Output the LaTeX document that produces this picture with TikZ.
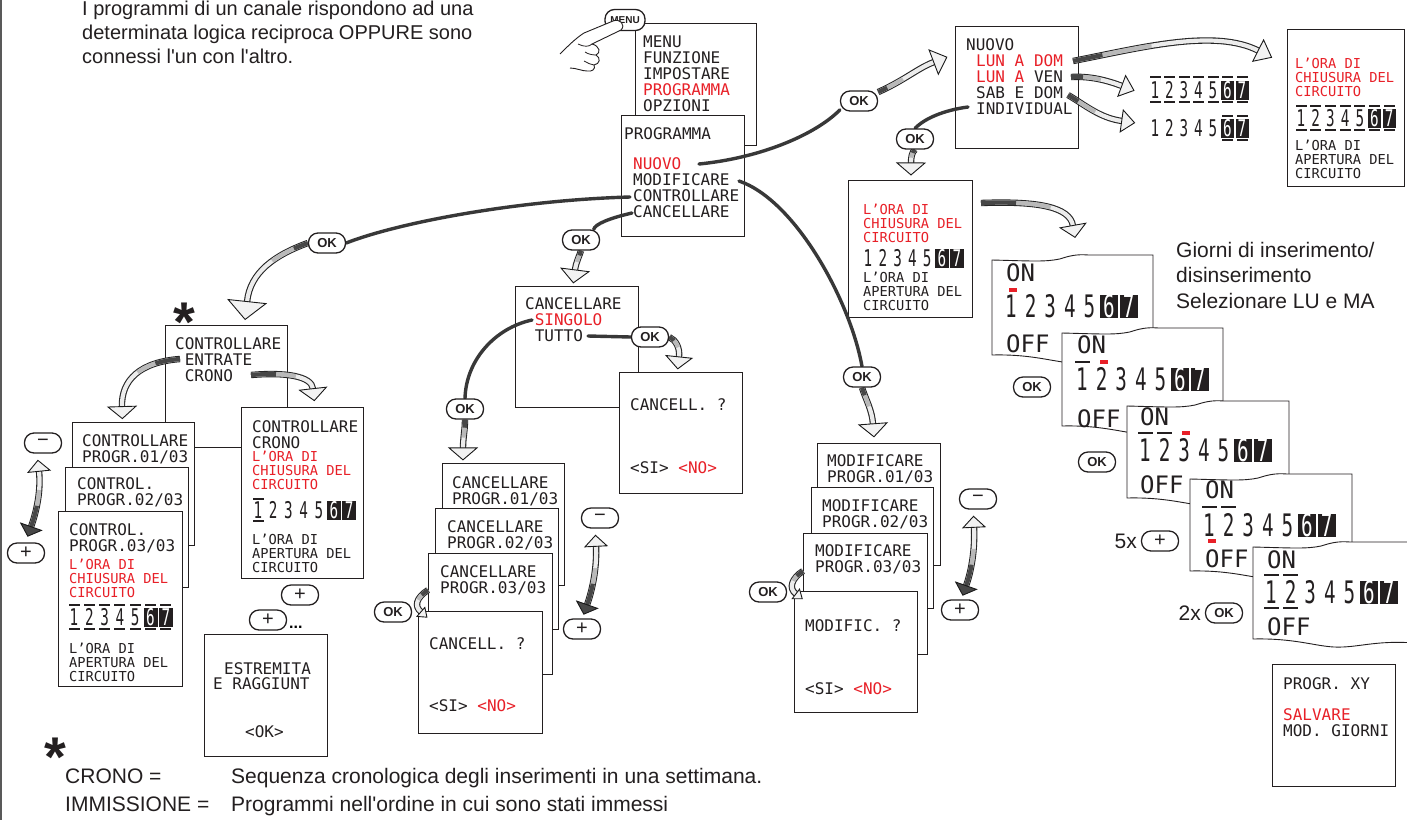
\documentclass[tikz,border=0pt]{standalone}
\usepackage{fontspec}
\setmainfont{Liberation Sans}
\setsansfont{Liberation Sans}
\newfontfamily\lcdfont{DejaVu Sans Mono}
\newfontfamily\lcdnum{DejaVu Sans Mono}[FakeStretch=0.62]
\usetikzlibrary{decorations.markings}

\definecolor{ink}{RGB}{35,31,32}
\definecolor{lcdred}{RGB}{232,32,40}

\pgfdeclarelayer{front}
\pgfsetlayers{main,front}

\newcommand\ind{\phantom{X}}
\newcommand\red[1]{\textcolor{lcdred}{#1}}

\tikzset{
  scr/.style={draw=ink, line width=1.1pt, fill=white, anchor=north west, inner sep=0pt},
  lcd/.style={font=\lcdfont\fontsize{16}{16}\selectfont, text=ink, align=left, inner sep=0pt},
  lcds/.style={font=\lcdfont\fontsize{13.7}{13.8}\selectfont, text=ink, align=left, inner sep=0pt},
  lcdbig/.style={font=\lcdfont\fontsize{24}{24}\selectfont, text=ink, anchor=base west, inner sep=0pt},
  note/.style={font=\fontsize{21}{23.5}\selectfont, text=ink, align=left, inner sep=0pt},
  btn/.style={draw=ink, line width=1.3pt, fill=white, rounded corners=9.5pt,
    minimum width=37pt, minimum height=20pt, inner sep=0pt, text=ink,
    font=\bfseries\fontsize{13}{13}\selectfont},
  pmbtn/.style={btn, font=\fontsize{20}{20}\selectfont},
  star/.style={inner sep=0pt, anchor=north, text=ink, font=\bfseries\fontsize{56}{56}\selectfont},
  darkline/.style={draw=black!78, line width=3.4pt, line cap=round},
  ribbon/.style 2 args={draw=black!85, line width=6.4pt,
    postaction={draw=gray!15, line width=4.2pt},
    postaction={draw=gray!55, line width=4.2pt, dash pattern=on #2 off 3000pt},
    postaction={draw=black!72, line width=4.2pt, dash pattern=on #1 off 3000pt}},
  tipend/.style 2 args={postaction={decorate, decoration={markings,
    mark=at position 0.995 with {\filldraw[draw=black!90, fill=gray!10, line width=0.9pt, line join=miter]
      (0,{-#1/2}) -- (#2,0) -- (0,{#1/2}) -- cycle;}}}},
  tipstart/.style 2 args={postaction={decorate, decoration={markings,
    mark=at position 0.005 with {\filldraw[draw=black!90, fill=black!72, line width=0.9pt, line join=miter]
      (0,{-#1/2}) -- (-#2,0) -- (0,{#1/2}) -- cycle;}}}},
}

% screen frame: name, x, y (top left), width, height
\newcommand\screen[5]{\node[scr, minimum width=#4pt, minimum height=#5pt] (#1) at (#2,#3) {};}

% day digits 1..7, 6 and 7 inverted: name, x of first centre, y centre, pitch, font size, cell height
\newcommand\dayrow[6]{%
  \foreach \k in {1,...,7}{%
    \pgfmathsetmacro\dx{#2+(\k-1)*#4}%
    \ifnum\k>5
      \fill[ink] ({\dx-#4/2+0.8},{#3-#6/2}) rectangle ({\dx+#4/2-0.4},{#3+#6/2});
      \node[inner sep=0pt, text=white, font=\lcdnum\fontsize{#5}{#5}\selectfont] (#1-\k) at (\dx,#3) {\k};
    \else
      \node[inner sep=0pt, text=ink, font=\lcdnum\fontsize{#5}{#5}\selectfont] (#1-\k) at (\dx,#3) {\k};
    \fi
  }%
}
% selection bars: y, x of first centre, pitch, bar width, list of days
\newcommand\daybars[5]{%
  \foreach \k in {#5}{%
    \fill[ink] ({#2+(\k-1)*#3-#4/2},{#1-1.2}) rectangle ({#2+(\k-1)*#3+#4/2},{#1+1.2});
  }%
}
\newcommand\cursor[2]{\fill[lcdred] ({#1-4},{#2-2}) rectangle ({#1+4},{#2+2});}

% torn display: left, top, right, bottom
\newcommand\tornscreen[4]{%
  \filldraw[draw=ink, line width=0.9pt, fill=white]
    (#1,#2+4) .. controls ({#1+0.25*(#3-#1)},#2+5) and ({#1+0.33*(#3-#1)},#2+6) .. ({#1+0.42*(#3-#1)},#2+3)
    .. controls ({#1+0.48*(#3-#1)},#2) and ({#1+0.52*(#3-#1)},#2-2) .. ({#1+0.6*(#3-#1)},#2-1)
    -- (#3,#2-1) -- (#3,#4-3)
    .. controls ({#3-0.25*(#3-#1)},#4-6) and ({#3-0.35*(#3-#1)},#4+2) .. ({#3-0.5*(#3-#1)},#4+1)
    .. controls ({#3-0.62*(#3-#1)},#4) and ({#3-0.75*(#3-#1)},#4-8) .. (#1,#4-7) -- cycle;
}

\begin{document}
\begin{tikzpicture}[x=1pt, y=-1pt]
\useasboundingbox (0,0) rectangle (1407,820);
\clip (0,0) rectangle (1407,820);
\fill[white] (0,0) rectangle (1407,820);
\draw[line width=2.4pt, draw=black!65] (1.2,0) -- (1.2,820);

% ---------- explanatory texts ----------
\node[note, anchor=north west, font=\fontsize{20}{24}\selectfont] (intro) at (82,1)
  {I programmi di un canale rispondono ad una\\determinata logica reciproca OPPURE sono\\connessi l\textquotesingle un con l\textquotesingle altro.};
\node[note, anchor=north west, font=\fontsize{21}{25.5}\selectfont] (giorni) at (1176,242)
  {Giorni di inserimento/\\disinserimento\\Selezionare LU e MA};
\node[star] (star2) at (55,738) {*};
\node[note, anchor=base west] (k1) at (65,783) {CRONO =};
\node[note, anchor=base west] (v1) at (231,783) {Sequenza cronologica degli inserimenti in una settimana.};
\node[note, anchor=base west] (k2) at (65,811) {IMMISSIONE =};
\node[note, anchor=base west] (v2) at (231,811) {Programmi nell\textquotesingle ordine in cui sono stati immessi};

% ---------- main menu ----------
\screen{menuscr}{635}{23}{121}{122}
\node[lcd, anchor=north west] (menutxt) at (643,35.3) {MENU\\FUNZIONE\\IMPOSTARE\\\red{PROGRAMMA}\\OPZIONI};
\screen{progscr}{621}{115}{123}{121}
\node[lcd, anchor=base west] (progtitle) at (624,139) {PROGRAMMA};
\node[lcd, anchor=north west] (progitems) at (633,157.3) {\red{NUOVO}\\MODIFICARE\\CONTROLLARE\\CANCELLARE};

% ---------- new program ----------
\screen{nuovoscr}{955}{26}{123}{122}
\node[lcd, anchor=base west] (nuovotitle) at (966,50) {NUOVO};
\node[lcd, anchor=north west] (nuovoitems) at (976,54.8) {\red{LUN A DOM}\\\red{LUN A} VEN\\SAB E DOM\\INDIVIDUAL};

\screen{trscr}{1287}{29}{117}{157}
\node[lcds, anchor=north west, text=lcdred] (trtop) at (1295,58) {L’ORA DI\\CHIUSURA DEL\\CIRCUITO};
\dayrow{rtr}{1301}{118}{14.7}{23}{19}
\daybars{106}{1301}{14.7}{11}{1,...,7}
\daybars{130}{1301}{14.7}{11}{1,...,7}
\node[lcds, anchor=north west] (trbot) at (1295,140) {L’ORA DI\\APERTURA DEL\\CIRCUITO};

\dayrow{rwk}{1155}{90}{14.5}{23}{19}
\daybars{77}{1155}{14.5}{11}{1,...,7}
\daybars{102}{1155}{14.5}{11}{1,...,7}
\dayrow{rwe}{1155}{128}{14.5}{23}{19}
\daybars{116}{1155}{14.5}{11}{6,7}
\daybars{140}{1155}{14.5}{11}{6,7}

\screen{lorascr}{848}{180}{124}{137}
\node[lcds, anchor=north west, text=lcdred] (loratop) at (863,204) {L’ORA DI\\CHIUSURA DEL\\CIRCUITO};
\dayrow{rlo}{868}{258}{14.8}{23}{19}
\node[lcds, anchor=north west] (lorabot) at (863,272) {L’ORA DI\\APERTURA DEL\\CIRCUITO};

% ---------- day selection displays ----------
\tornscreen{992}{256}{1153}{362}
\node[lcdbig] (s1on) at (1006,281) {ON};
\cursor{1013}{290}
\dayrow{rs1}{1011}{306}{19.6}{31}{23}
\node[lcdbig] (s1off) at (1006,352) {OFF};

\tornscreen{1062}{329}{1223}{433}
\node[lcdbig] (s2on) at (1077,353) {ON};
\daybars{362}{1082}{19.6}{15}{1}
\cursor{1104}{362}
\dayrow{rs2}{1082}{379}{19.6}{31}{23}
\node[lcdbig] (s2off) at (1077,427) {OFF};

\tornscreen{1127}{402}{1289}{505}
\node[lcdbig] (s3on) at (1140,425) {ON};
\daybars{433}{1145}{19.6}{15}{1,2}
\cursor{1186}{433}
\dayrow{rs3}{1145}{450}{19.6}{31}{23}
\node[lcdbig] (s3off) at (1140,493) {OFF};

\tornscreen{1190}{475}{1352}{578}
\node[lcdbig] (s4on) at (1205,498) {ON};
\daybars{507}{1209}{19.6}{15}{1,2}
\dayrow{rs4}{1209}{525}{19.6}{31}{23}
\cursor{1212}{541}
\node[lcdbig] (s4off) at (1205,567) {OFF};

\tornscreen{1253}{543}{1415}{646}
\node[lcdbig] (s5on) at (1267,568) {ON};
\daybars{575}{1271}{19.6}{15}{1,2}
\dayrow{rs5}{1271}{592}{19.6}{31}{23}
\daybars{608}{1271}{19.6}{15}{1,2}
\node[lcdbig] (s5off) at (1267,635) {OFF};

\screen{xyscr}{1272}{664}{123}{122}
\node[lcd, anchor=base west] (xytitle) at (1283,689) {PROGR. XY};
\node[lcd, anchor=north west] (xyitems) at (1283,708.3) {\red{SALVARE}\\MOD. GIORNI};

% ---------- check programs ----------
\screen{ctrlscr}{165}{325}{122}{122}
\node[lcd, anchor=north west] (ctrltxt) at (175,337.3) {CONTROLLARE\\\ind ENTRATE\\\ind CRONO};
\node[star] (star1) at (184,303) {*};

\screen{ctA}{72}{422}{122}{123}
\node[lcd, anchor=north west] (ctAtxt) at (82,434.3) {CONTROLLARE\\PROGR.01/03};
\screen{ctB}{65}{467}{123}{120}
\node[lcd, anchor=north west] (ctBtxt) at (77,477.3) {CONTROL.\\PROGR.02/03};
\screen{ctC}{58}{511}{124}{175}
\node[lcd, anchor=north west] (ctCtxt) at (69,523.3) {CONTROL.\\PROGR.03/03};
\node[lcds, anchor=north west, text=lcdred] (ctCred) at (69,559) {L’ORA DI\\CHIUSURA DEL\\CIRCUITO};
\dayrow{rct}{74}{617}{15.3}{23}{19}
\daybars{605}{74}{15.3}{11}{1,...,7}
\daybars{629}{74}{15.3}{11}{1,...,7}
\node[lcds, anchor=north west] (ctCbot) at (69,643) {L’ORA DI\\APERTURA DEL\\CIRCUITO};

\screen{cronoscr}{241}{407}{122}{171}
\node[lcd, anchor=north west] (cronotxt) at (252,420.3) {CONTROLLARE\\CRONO};
\node[lcds, anchor=north west, text=lcdred] (cronored) at (252,451) {L’ORA DI\\CHIUSURA DEL\\CIRCUITO};
\dayrow{rcr}{258}{510}{15.2}{23}{19}
\daybars{499}{258}{15.2}{11}{1}
\daybars{521}{258}{15.2}{11}{1}
\node[lcds, anchor=north west] (cronobot) at (252,534) {L’ORA DI\\APERTURA DEL\\CIRCUITO};

\screen{estrscr}{204}{634}{123}{122}
\node[lcd, anchor=base west] (estr1) at (224,674) {ESTREMITA};
\node[lcd, anchor=base west] (estr2) at (213,689) {E RAGGIUNT};
\node[lcd, anchor=base west] (estr3) at (245,737) {<OK>};

% ---------- delete programs ----------
\screen{cancscr}{515}{286}{123}{121}
\node[lcd, anchor=north west] (canctxt) at (525,297.3) {CANCELLARE\\\ind\red{SINGOLO}\\\ind TUTTO};
\screen{cancq}{619}{372}{123}{121}
\node[lcd, anchor=base west] (cancq1) at (630,410) {CANCELL. ?};
\node[lcd, anchor=base west] (cancq2) at (630,473) {<SI> \red{<NO>}};

\screen{caA}{442}{463}{122}{122}
\node[lcd, anchor=north west] (caAtxt) at (452,476.3) {CANCELLARE\\PROGR.01/03};
\screen{caB}{435}{508}{123}{121}
\node[lcd, anchor=north west] (caBtxt) at (447,520.3) {CANCELLARE\\PROGR.02/03};
\screen{caC}{428}{553}{124}{121}
\node[lcd, anchor=north west] (caCtxt) at (440,565.3) {CANCELLARE\\PROGR.03/03};
\screen{caD}{418}{611}{124}{122}
\node[lcd, anchor=base west] (caD1) at (429,649) {CANCELL. ?};
\node[lcd, anchor=base west] (caD2) at (429,711) {<SI> \red{<NO>}};

% ---------- modify programs ----------
\screen{moA}{817}{443}{123}{122}
\node[lcd, anchor=north west] (moAtxt) at (827,454.3) {MODIFICARE\\PROGR.01/03};
\screen{moB}{811}{487}{122}{121}
\node[lcd, anchor=north west] (moBtxt) at (822,499.3) {MODIFICARE\\PROGR.02/03};
\screen{moC}{803}{533}{124}{121}
\node[lcd, anchor=north west] (moCtxt) at (815,544.3) {MODIFICARE\\PROGR.03/03};
\screen{moD}{794}{591}{123}{121}
\node[lcd, anchor=base west] (moD1) at (805,631) {MODIFIC. ?};
\node[lcd, anchor=base west] (moD2) at (805,694) {<SI> \red{<NO>}};

% ---------- keys ----------
\begin{pgfonlayer}{front}
\node[btn, minimum width=40pt, minimum height=21pt, font=\bfseries\fontsize{10}{10}\selectfont] (menubtn) at (625,20) {MENU};
\filldraw[draw=ink, fill=white, line width=0.9pt, line join=round]
  (560,54) .. controls (568,46) and (576,38) .. (584,33)
  -- (613,21) .. controls (620,18) and (626,25) .. (621,30)
  -- (592,44)
  .. controls (600,46) and (601,53) .. (596,55)
  .. controls (601,58) and (600,64) .. (594,65)
  .. controls (596,69) and (592,72) .. (587,71)
  .. controls (582,71) and (576,68) .. (570,68);
\draw[draw=ink, line width=0.8pt] (578,44) .. controls (584,47) and (589,47) .. (592,44);
\draw[draw=ink, line width=0.8pt] (596,55) .. controls (592,55) and (588,54) .. (585,52);
\draw[draw=ink, line width=0.8pt] (594,65) .. controls (590,64) and (587,63) .. (584,61);

\node[btn] (ok1) at (859,101) {OK};
\node[btn] (ok2) at (915,139) {OK};
\node[btn] (ok3) at (862,377) {OK};
\node[btn] (ok4) at (327,243) {OK};
\node[btn] (ok5) at (581,240) {OK};
\node[btn] (ok6) at (465,409) {OK};
\node[btn] (ok7) at (650,337) {OK};
\node[btn] (ok8) at (393,612) {OK};
\node[btn] (ok9) at (768,592) {OK};
\node[btn] (ok10) at (1032,387) {OK};
\node[btn] (ok11) at (1097,462) {OK};
\node[btn] (ok12) at (1224,613) {OK};
\node[pmbtn] (m1) at (43,443) {−};
\node[pmbtn] (m2) at (600,518) {−};
\node[pmbtn] (m3) at (978,499) {−};
\node[pmbtn] (p1) at (26,553) {+};
\node[pmbtn] (p2) at (582,629) {+};
\node[pmbtn] (p3) at (960,610) {+};
\node[pmbtn] (p4) at (300,595) {+};
\node[pmbtn] (p5) at (268,620) {+};
\node[pmbtn] (p6) at (1160,541) {+};
\node[inner sep=0pt, anchor=base west, font=\bfseries\fontsize{16}{16}\selectfont] (dots) at (289,628) {...};
\node[note, anchor=base east] (five) at (1137,548) {5x};
\node[note, anchor=base east] (two) at (1201,620) {2x};
\end{pgfonlayer}

% ---------- connector end points ----------
\coordinate (nuovoEnd) at (699,164);
\coordinate (lundomEnd) at (1073,61);
\coordinate (lunvenEnd) at (1071,77);
\coordinate (sabdomEnd) at (1068,95);
\coordinate (indivStart) at (968,107);
\coordinate (modifEnd) at (739,181);
\coordinate (controlEnd) at (630,197);
\coordinate (cancEnd) at (632,213);
\coordinate (singoloStart) at (532,320);
\coordinate (tuttoEnd) at (588,336);
\coordinate (entrateStart) at (180,359);
\coordinate (cronoEnd) at (251,375);
\coordinate (loraOut) at (981,203);
\coordinate (b1) at (934,62);
\coordinate (b2) at (1259,51);
\coordinate (b3) at (1122,86);
\coordinate (b4) at (1122,121);
\coordinate (b5) at (911,163);
\coordinate (b6) at (1073,226);
\coordinate (b7) at (873,424);
\coordinate (b8) at (247,302);
\coordinate (b9) at (575,270);
\coordinate (b10) at (463,448);
\coordinate (b11) at (679,357);
\coordinate (b12) at (122,407);
\coordinate (b13) at (313,389);
\coordinate (caS) at (428,590);
\coordinate (caE) at (421,612);
\coordinate (moS) at (803,571);
\coordinate (moE) at (796,594);
\coordinate (d1b) at (31,527);
\coordinate (d1t) at (39,471);
\coordinate (d2b) at (587,605);
\coordinate (d2t) at (596,546);
\coordinate (d3b) at (966,586);
\coordinate (d3t) at (974,527);

% ---------- connectors ----------
\draw[darkline] (nuovoEnd) .. controls (760,158) and (815,135) .. (ok1.205);
\draw[ribbon={10pt}{28pt}, tipend={26}{14}] (ok1.25) .. controls (905,80) and (918,68) .. (b1);

\draw[ribbon={30pt}{80pt}, tipend={24}{15}] (lundomEnd) .. controls (1140,48) and (1215,28) .. (b2);
\draw[ribbon={12pt}{30pt}, tipend={22}{13}] (lunvenEnd) .. controls (1090,76) and (1106,80) .. (b3);
\draw[ribbon={12pt}{32pt}, tipend={22}{13}] (sabdomEnd) .. controls (1085,105) and (1100,118) .. (b4);

\draw[darkline] (indivStart) .. controls (945,110) and (925,118) .. (ok2.north);
\draw[ribbon={4pt}{9pt}, tipend={28}{12}] (ok2.south) .. controls (912,152) and (911,157) .. (b5);

\draw[ribbon={35pt}{70pt}, tipend={26}{12}] (loraOut) .. controls (1035,201) and (1070,206) .. (b6);

\draw[darkline] (modifEnd) .. controls (795,200) and (850,300) .. (ok3.north);
\draw[ribbon={8pt}{20pt}, tipend={28}{13}] (ok3.south) .. controls (866,400) and (872,410) .. (b7);

\draw[darkline] (controlEnd) .. controls (520,200) and (400,222) .. (ok4.east);
\draw[ribbon={15pt}{40pt}, tipend={38}{18}] (ok4.west) .. controls (275,255) and (250,272) .. (b8);

\draw[darkline] (cancEnd) .. controls (610,218) and (595,224) .. (ok5.40);
\draw[ribbon={5pt}{12pt}, tipend={28}{13}] (ok5.south) .. controls (579,257) and (576,262) .. (b9);

\draw[darkline] (singoloStart) .. controls (495,328) and (466,360) .. (ok6.north);
\draw[ribbon={8pt}{18pt}, tipend={28}{12}] (ok6.south) .. controls (465,430) and (463,438) .. (b10);

\draw[darkline] (tuttoEnd) -- (ok7.west);
\draw[ribbon={6pt}{14pt}, tipend={26}{12}] (ok7.east) .. controls (676,340) and (680,348) .. (b11);

\draw[ribbon={25pt}{45pt}, tipend={28}{12}] (entrateStart) .. controls (140,362) and (121,380) .. (b12);
\draw[ribbon={25pt}{45pt}, tipend={27}{12}] (cronoEnd) .. controls (285,372) and (312,376) .. (b13);

\draw[ribbon={8pt}{14pt}, tipend={12}{8}] (caS) .. controls (416,598) and (414,606) .. (caE);
\draw[ribbon={8pt}{14pt}, tipend={12}{8}] (moS) .. controls (792,578) and (788,588) .. (moE);

\draw[ribbon={22pt}{38pt}, tipstart={22}{10}, tipend={22}{11}] (d1b) .. controls (37,510) and (41,490) .. (d1t);
\draw[ribbon={22pt}{38pt}, tipstart={22}{10}, tipend={22}{11}] (d2b) .. controls (593,588) and (597,566) .. (d2t);
\draw[ribbon={22pt}{38pt}, tipstart={22}{10}, tipend={22}{11}] (d3b) .. controls (972,569) and (975,548) .. (d3t);
\end{tikzpicture}
\end{document}
